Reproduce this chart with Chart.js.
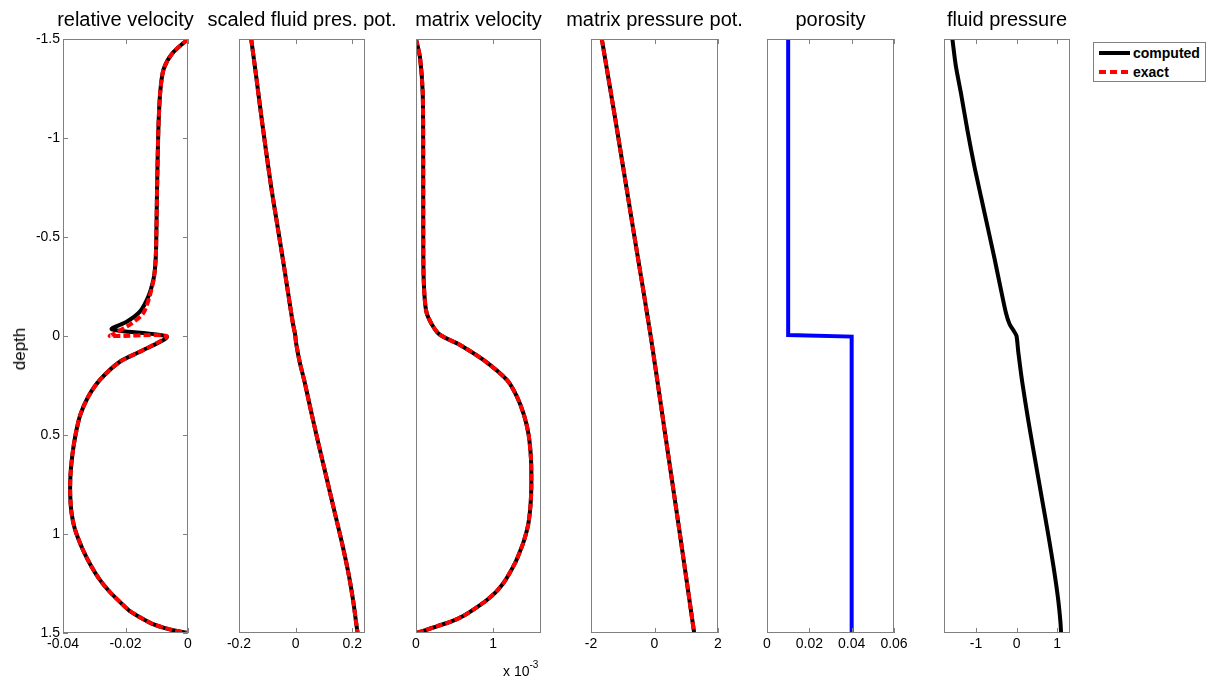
<!DOCTYPE html>
<html>
<head>
<meta charset="utf-8">
<script src="https://cdn.jsdelivr.net/npm/chart.js@4.4.1/dist/chart.umd.min.js"></script>
<style>
  body { margin: 0; background: #fff; width: 1217px; height: 682px; position: relative; overflow: hidden;
         font-family: "Liberation Sans", Arial, Helvetica, sans-serif; }
  .panel { position: absolute; top: 0; height: 682px; }
  #legend { position: absolute; left: 1093px; top: 42px; width: 111px; height: 38px; border: 1px solid #808080; background: #fff; }
  #legend .row { position: absolute; left: 5px; height: 18px; font-weight: bold; font-size: 14px; line-height: 18px; }
  #legend .row span { position: absolute; left: 34px; top: 0; white-space: nowrap; }
  #legend .swatch { position: absolute; left: 0; top: 7px; width: 31px; height: 4px; }
  #exp { position: absolute; left: 503px; top: 661px; font-size: 14px; white-space: nowrap; }
  #exp sup { font-size: 10px; position: relative; top: -2px; }
  #ylabel { position: absolute; left: 20px; top: 349px; font-size: 17px; white-space: nowrap;
            transform: translate(-50%, -50%) rotate(-90deg); }
</style>
</head>
<body>
<div class="panel" id="p0"><canvas id="c0"></canvas></div>
<div class="panel" id="p1"><canvas id="c1"></canvas></div>
<div class="panel" id="p2"><canvas id="c2"></canvas></div>
<div class="panel" id="p3"><canvas id="c3"></canvas></div>
<div class="panel" id="p4"><canvas id="c4"></canvas></div>
<div class="panel" id="p5"><canvas id="c5"></canvas></div>
<div id="ylabel">depth</div>
<div id="exp">x 10<sup>-3</sup></div>
<div id="legend">
  <div class="row" style="top:1px"><div class="swatch" style="background:#000"></div><span>computed</span></div>
  <div class="row" style="top:20px"><div class="swatch" style="background:repeating-linear-gradient(90deg,#f00 0 7px,transparent 7px 11px)"></div><span>exact</span></div>
</div>
<script>
// depth axis (shared, reversed)
const depthTicks = [-1.5, -1, -0.5, 0, 0.5, 1, 1.5];

// relative velocity
const relVelTicks = [-0.04, -0.02, 0];
const relVelDepth = [-1.5, -1.426, -1.348, -1.23, -1.035, -0.742, -0.449, -0.352, -0.283, -0.199, -0.123, -0.072, -0.034,
  0.003, 0.071, 0.13, 0.222, 0.306, 0.40, 0.50, 0.60, 0.70, 0.80, 0.89, 0.975, 1.081, 1.162, 1.232, 1.293, 1.343,
  1.389, 1.429, 1.455, 1.475, 1.49, 1.5];
const relVelComputed = [0, -0.0051, -0.0078, -0.0089, -0.0095, -0.0099, -0.0102, -0.0105, -0.0111, -0.0127, -0.0154, -0.0196, -0.0244,
  -0.0068, -0.0143, -0.0218, -0.0282, -0.0319, -0.0345, -0.036, -0.037, -0.0376, -0.0377, -0.0373, -0.0362, -0.0336, -0.031, -0.0282, -0.025, -0.0218,
  -0.0186, -0.0144, -0.0112, -0.0074, -0.0035, 0];
const relVelExactDepth = [-1.5, -1.426, -1.348, -1.23, -1.035, -0.742, -0.449, -0.352, -0.283, -0.199, -0.115, -0.064, -0.013, 0,
  0, 0.071, 0.13, 0.222, 0.306, 0.40, 0.50, 0.60, 0.70, 0.80, 0.89, 0.975, 1.081, 1.162, 1.232, 1.293, 1.343,
  1.389, 1.429, 1.455, 1.475, 1.49, 1.5];
const relVelExact = [0, -0.0051, -0.0078, -0.0089, -0.0095, -0.0099, -0.0102, -0.0105, -0.011, -0.0123, -0.0143, -0.018, -0.0234, -0.025,
  -0.0068, -0.0143, -0.0218, -0.0282, -0.0319, -0.0345, -0.036, -0.037, -0.0376, -0.0377, -0.0373, -0.0362, -0.0336, -0.031, -0.0282, -0.025, -0.0218,
  -0.0186, -0.0144, -0.0112, -0.0074, -0.0035, 0];

// scaled fluid pressure potential
const fluidPotTicks = [-0.2, 0, 0.2];
const fluidPotDepth = [-1.5, -1.33, -1.13, -0.94, -0.74, -0.546, -0.351, -0.156, -0.059, -0.01, 0.039, 0.136, 0.234, 0.39,
  0.546, 0.721, 0.897, 1.053, 1.209, 1.345, 1.462, 1.5];
const fluidPot = [-0.157, -0.141, -0.123, -0.105, -0.085, -0.063, -0.041, -0.020, -0.009, -0.002, 0.002, 0.015, 0.032, 0.056,
  0.081, 0.110, 0.139, 0.165, 0.188, 0.204, 0.215, 0.219];

// matrix velocity (x 10^-3)
const matVelTicks = [0, 1];
const matVelDepth = [-1.5, -1.406, -1.229, -0.937, -0.546, -0.283, -0.115, -0.013, 0.045, 0.121, 0.222, 0.306, 0.40, 0.50,
  0.62, 0.75, 0.85, 0.95, 1.033, 1.096, 1.15, 1.237, 1.288, 1.333, 1.374, 1.414, 1.444, 1.465, 1.485, 1.5];
const matVel = [0, 0.052, 0.087, 0.093, 0.094, 0.100, 0.139, 0.29, 0.571, 0.874, 1.178, 1.308, 1.40, 1.46,
  1.49, 1.495, 1.485, 1.455, 1.40, 1.34, 1.28, 1.153, 1.047, 0.919, 0.773, 0.612, 0.444, 0.278, 0.126, 0];

// matrix pressure potential
const matPotTicks = [-2, 0, 2];
const matPotDepth = [-1.5, -1.1, -0.5, 0, 0.5, 1, 1.5];
const matPot = [-1.66, -1.24, -0.63, -0.12, 0.34, 0.80, 1.25];

// porosity
const porosityTicks = [0, 0.02, 0.04, 0.06];
const porosityDepth = [-1.5, -0.005, 0.003, 1.5];
const porosity = [0.01, 0.01, 0.04, 0.04];

// fluid pressure
const fluidPresTicks = [-1, 0, 1];
const fluidPresDepth = [-1.5, -1.367, -1.23, -1.035, -0.859, -0.702, -0.546, -0.39, -0.254, -0.117, -0.059, -0.023, 0,
  0.078, 0.234, 0.429, 0.624, 0.819, 1.014, 1.17, 1.326, 1.442, 1.5];
const fluidPres = [-1.583, -1.5, -1.375, -1.208, -1.042, -0.875, -0.708, -0.542, -0.405, -0.262, -0.17, -0.06, 0,
  0.042, 0.142, 0.292, 0.458, 0.625, 0.792, 0.917, 1.025, 1.083, 1.1];

Chart.defaults.font.family = '"Liberation Sans", Arial, Helvetica, sans-serif';
Chart.defaults.color = '#000';

// plot box edges in the page
const plotLeft = [63, 239, 416, 591, 767, 944];
const plotRight = [188, 365, 541, 718, 894, 1070];
const pad = 45;

function curve(values, depths, color, width, dash) {
  return {
    data: values.map((v, i) => ({ x: v, y: depths[i] })),
    showLine: true,
    borderColor: color,
    borderWidth: width,
    borderDash: dash || [],
    pointRadius: 0,
    tension: 0.25,
    fill: false,
  };
}

// matlab style box with inward ticks
const framePlugin = {
  id: 'frame',
  afterDraw(chart, args, opts) {
    const { ctx, chartArea: a } = chart;
    const x = chart.scales.x, y = chart.scales.y;
    ctx.save();
    ctx.strokeStyle = '#808080';
    ctx.lineWidth = 1;
    ctx.strokeRect(Math.round(a.left) + 0.5, Math.round(a.top) + 0.5,
      Math.round(a.right - a.left) - 1, Math.round(a.bottom - a.top) - 1);
    ctx.beginPath();
    x.ticks.forEach(t => {
      const p = Math.round(x.getPixelForValue(t.value)) + 0.5;
      ctx.moveTo(p, a.top); ctx.lineTo(p, a.top + 5);
      ctx.moveTo(p, a.bottom); ctx.lineTo(p, a.bottom - 5);
    });
    if (opts.yTicks) {
      y.ticks.forEach(t => {
        const p = Math.round(y.getPixelForValue(t.value)) + 0.5;
        ctx.moveTo(a.left, p); ctx.lineTo(a.left + 5, p);
        ctx.moveTo(a.right, p); ctx.lineTo(a.right - 5, p);
      });
    }
    ctx.stroke();
    ctx.restore();
  }
};

function makePanel(i, title, xMin, xMax, xTicks, datasets) {
  const first = i === 0;
  // same space on both sides so the title sits centred over the box
  const side = first ? plotLeft[0] : pad;
  const box = document.getElementById('p' + i);
  box.style.left = (plotLeft[i] - side) + 'px';
  box.style.width = (plotRight[i] - plotLeft[i] + 2 * side) + 'px';

  return new Chart(document.getElementById('c' + i), {
    type: 'scatter',
    data: { datasets: datasets },
    options: {
      animation: false,
      responsive: true,
      maintainAspectRatio: false,
      layout: { padding: 0 },
      plugins: {
        legend: { display: false },
        tooltip: { enabled: false },
        title: {
          display: true, text: title, color: '#000',
          font: { size: 20, weight: 'normal', lineHeight: '20px' },
          padding: { top: 10, bottom: 9 },
        },
        frame: { yTicks: first },
      },
      scales: {
        x: {
          type: 'linear', min: xMin, max: xMax,
          afterBuildTicks: s => { s.ticks = xTicks.map(v => ({ value: v })); },
          afterFit: s => { s.height = 49; },
          ticks: { callback: v => String(v), font: { size: 14 }, color: '#000', padding: 3, autoSkip: false, maxRotation: 0, minRotation: 0 },
          grid: { display: false, drawTicks: false },
          border: { display: false },
        },
        y: {
          type: 'linear', reverse: true, min: -1.5, max: 1.5, display: first,
          afterBuildTicks: s => { s.ticks = depthTicks.map(v => ({ value: v })); },
          afterFit: s => { s.width = side; },
          ticks: { callback: v => String(v), font: { size: 14 }, color: '#000', padding: 3, autoSkip: false },
          grid: { display: false, drawTicks: false },
          border: { display: false },
        },
        // empty spacer on the right so the title keeps the full canvas width
        yR: {
          type: 'linear', position: 'right', display: false,
          afterFit: s => { s.width = side; },
        },
      },
    },
    plugins: [framePlugin],
  });
}

const red = '#ff0000', dash = [7, 3];

makePanel(0, 'relative velocity', -0.04, 0, relVelTicks, [
  curve(relVelExact, relVelExactDepth, red, 4, dash),
  curve(relVelComputed, relVelDepth, '#000', 4),
]);
makePanel(1, 'scaled fluid pres. pot.', -0.2, 0.245, fluidPotTicks, [
  curve(fluidPot, fluidPotDepth, red, 4, dash),
  curve(fluidPot, fluidPotDepth, '#000', 4),
]);
makePanel(2, 'matrix velocity', 0, 1.62, matVelTicks, [
  curve(matVel, matVelDepth, red, 4, dash),
  curve(matVel, matVelDepth, '#000', 4),
]);
makePanel(3, 'matrix pressure pot.', -2, 2, matPotTicks, [
  curve(matPot, matPotDepth, red, 4, dash),
  curve(matPot, matPotDepth, '#000', 4),
]);
const poro = curve(porosity, porosityDepth, '#0000ff', 4);
poro.tension = 0;
makePanel(4, 'porosity', 0, 0.06, porosityTicks, [poro]);
makePanel(5, 'fluid pressure', -1.79, 1.32, fluidPresTicks, [
  curve(fluidPres, fluidPresDepth, '#000', 4),
]);
</script>
</body>
</html>
